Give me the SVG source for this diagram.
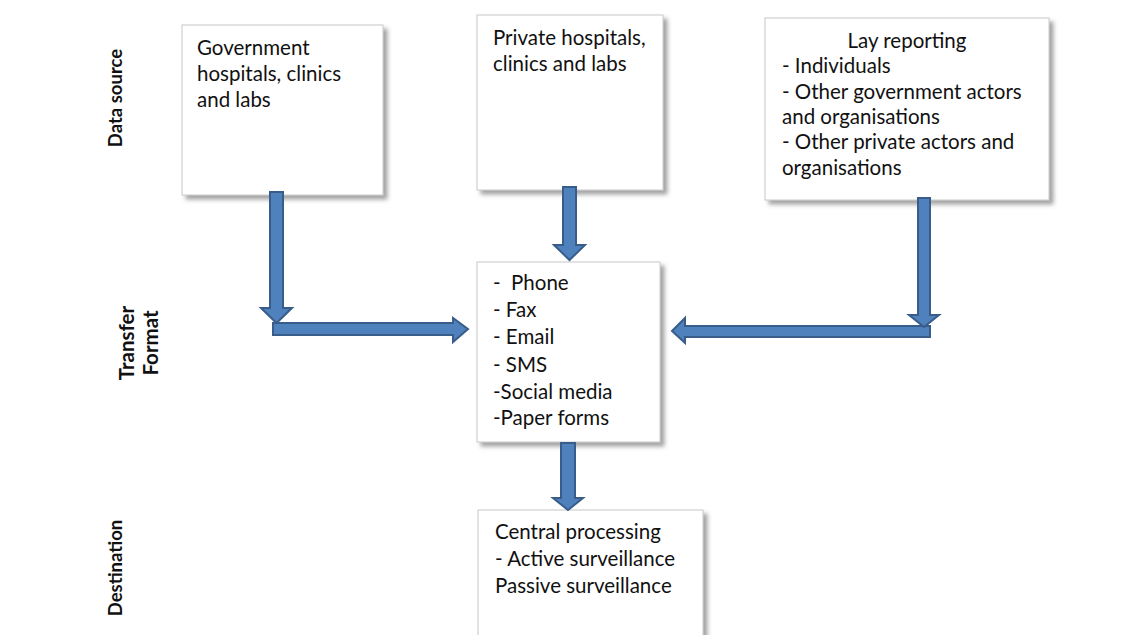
<svg xmlns="http://www.w3.org/2000/svg" width="1140" height="635" viewBox="0 0 1140 635">
  <defs>
    <filter id="shadow" x="-10%" y="-10%" width="125%" height="125%">
      <feDropShadow dx="4" dy="4" stdDeviation="2" flood-color="#555" flood-opacity="0.55"/>
    </filter>
  </defs>
  <style>
    .box { fill: #ffffff; stroke: #c8c8c8; stroke-width: 1; filter: url(#shadow); }
    .txt { font-family: Lato, "Liberation Sans", sans-serif; font-size: 20.5px; fill: #111; }
    .lbl { font-family: Lato, "Liberation Sans", sans-serif; font-size: 18.5px; font-weight: bold; fill: #111; }
    .lbl-big { font-size: 20.5px; }
    .arrow { fill: #4f81bd; stroke: #385d8a; stroke-width: 2; stroke-linejoin: miter; }
  </style>
  <rect width="1140" height="635" fill="#ffffff"/>

  <!-- stage labels -->
  <g id="stage-labels">
    <text class="lbl" transform="translate(122,98) rotate(-90)" text-anchor="middle">Data source</text>
    <text class="lbl lbl-big" transform="translate(134,343) rotate(-90)" text-anchor="middle">Transfer</text>
    <text class="lbl lbl-big" transform="translate(158,343) rotate(-90)" text-anchor="middle">Format</text>
    <text class="lbl" transform="translate(122,568) rotate(-90)" text-anchor="middle">Destination</text>
  </g>

  <g id="government">
    <rect class="box" x="182" y="25" width="201" height="170"/>
    <text class="txt" x="197" y="55">Government</text>
    <text class="txt" x="197" y="81">hospitals, clinics</text>
    <text class="txt" x="197" y="107">and labs</text>
  </g>

  <g id="private">
    <rect class="box" x="477" y="15" width="186" height="175"/>
    <text class="txt" x="493" y="45">Private hospitals,</text>
    <text class="txt" x="493" y="71">clinics and labs</text>
  </g>

  <g id="lay-reporting">
    <rect class="box" x="765" y="18" width="284" height="182"/>
    <text class="txt" x="907" y="48" text-anchor="middle">Lay reporting</text>
    <text class="txt" x="782" y="73">- Individuals</text>
    <text class="txt" x="782" y="99">- Other government actors</text>
    <text class="txt" x="782" y="124">and organisations</text>
    <text class="txt" x="782" y="149">- Other private actors and</text>
    <text class="txt" x="782" y="175">organisations</text>
  </g>

  <g id="transfer-format">
    <rect class="box" x="477" y="262" width="183" height="180"/>
    <text class="txt" x="493" y="290" xml:space="preserve">-  Phone</text>
    <text class="txt" x="493" y="317">- Fax</text>
    <text class="txt" x="493" y="344">- Email</text>
    <text class="txt" x="493" y="372">- SMS</text>
    <text class="txt" x="493" y="399">-Social media</text>
    <text class="txt" x="493" y="425">-Paper forms</text>
  </g>

  <g id="central-processing">
    <rect class="box" x="478" y="510" width="225" height="140"/>
    <text class="txt" x="495" y="539">Central processing</text>
    <text class="txt" x="495" y="566">- Active surveillance</text>
    <text class="txt" x="495" y="593">Passive surveillance</text>
  </g>

  <g id="connectors">
    <!-- government: down, then right -->
    <polygon class="arrow" points="273,323 453,323 453,318 468,329 453,342 453,335 273,335"/>
    <polygon class="arrow" points="270,192 283,192 283,308 292,308 276.5,323 261,308 270,308"/>
    <!-- private: straight down -->
    <polygon class="arrow" points="563,187 576,187 576,245 585,245 569.5,260 554,245 563,245"/>
    <!-- lay reporting: down, then left -->
    <polygon class="arrow" points="930,326 685,326 685,318 672,331 685,343 685,337 930,337"/>
    <polygon class="arrow" points="918,198 930,198 930,315 939,315 924,327 909,315 918,315"/>
    <!-- transfer format to central processing -->
    <polygon class="arrow" points="561,443 575,443 575,498 583,498 568,510 553,498 561,498"/>
  </g>
</svg>
